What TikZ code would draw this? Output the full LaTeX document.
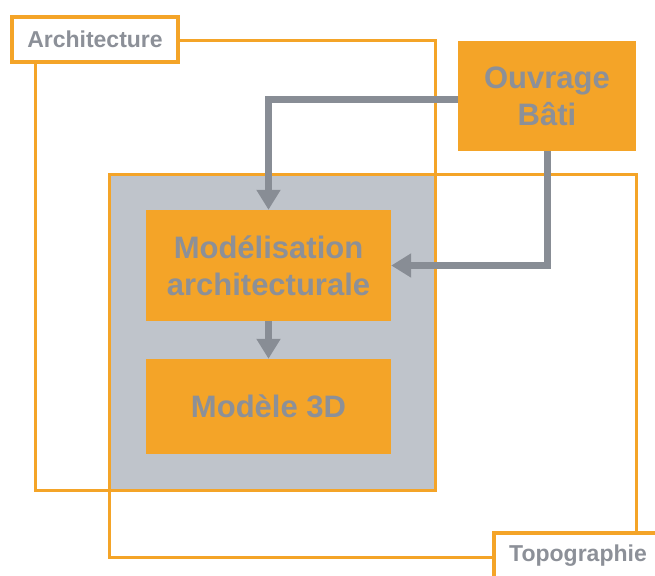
\documentclass[tikz,border=0pt]{standalone}
\usepackage{fontspec}
\setmainfont{Liberation Sans}
\usetikzlibrary{arrows.meta}
\definecolor{orng}{HTML}{F4A428}
\definecolor{txtgray}{HTML}{8C9098}
\definecolor{fillgray}{HTML}{BFC4CB}
\definecolor{arrgray}{HTML}{888D95}
\tikzset{
  frame/.style={draw=orng, line width=3pt},
  obox/.style={fill=orng, draw=none, inner sep=0pt, align=center, text=txtgray,
    font=\fontsize{31}{37}\selectfont\bfseries},
  lbl/.style={fill=white, draw=orng, line width=4pt, inner sep=0pt, text=txtgray,
    font=\fontsize{23}{27}\selectfont\bfseries},
  arr/.style={draw=arrgray, line width=7pt, -{Triangle[width=23pt,length=20pt]}},
}
\begin{document}
\begin{tikzpicture}[x=1pt,y=-1pt]
\useasboundingbox (0,0) rectangle (655,575);
% gray intersection
\fill[fillgray] (109,174) rectangle (435,490);
% frames
\draw[frame] (35,41) rectangle (435,490);
\draw[frame] (109,174) rectangle (636,557);
% labels
\node[lbl, minimum width=166pt, minimum height=45pt] (arch) at (95,39.5) {Architecture};
\node[lbl, minimum width=168pt, minimum height=46pt] (topo) at (578,556) {Topographie};
% boxes
\node[obox, minimum width=178pt, minimum height=110pt] (ouv) at (547,96) {Ouvrage\\Bâti};
\node[obox, minimum width=245pt, minimum height=111pt] (mod) at (268.5,265.5) {Modélisation\\architecturale};
\node[obox, minimum width=245pt, minimum height=95pt] (m3d) at (268.5,406.5) {Modèle 3D};
% arrows
\draw[arr] ([yshift=-4pt]ouv.west) -| (mod.north);
\draw[arr] (ouv.south) |- (mod.east);
\draw[arr] (mod.south) -- (m3d.north);
\end{tikzpicture}
\end{document}
